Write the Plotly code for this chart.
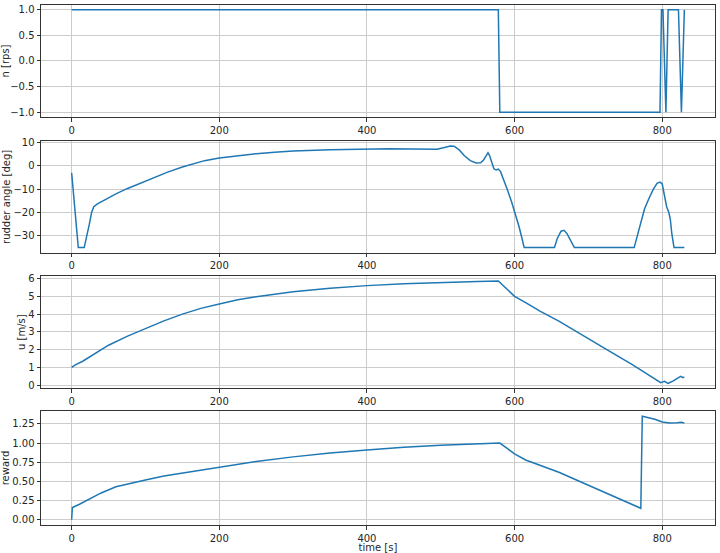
import plotly.graph_objects as go
from plotly.subplots import make_subplots

# ---- data ----
n_time = [0, 578, 580, 797, 799, 801, 805, 808, 822, 826, 830]
n_rps = [1, 1, -1, -1, 1, 1, -1, 1, 1, -1, 1]

rudder_time = [0, 3, 6, 9, 17, 20, 24, 27, 30, 35, 45, 60, 75, 90, 110, 130, 150, 165, 180, 200,
               225, 250, 275, 300, 350, 400, 430, 460, 480, 495, 505, 513, 518, 525, 532, 540,
               548, 554, 558, 562, 564, 566, 569, 572, 575, 578, 581, 585, 590, 596, 601, 606,
               610, 613, 654, 658, 663, 667, 671, 676, 681, 762, 766, 771, 776, 782, 788, 793,
               797, 800, 803, 806, 809, 811, 813, 816, 830]
rudder_deg = [-3, -14, -26, -35, -35, -31, -25, -20, -17.5, -16.3, -14.5, -12, -9.8, -7.8, -5.2,
              -2.7, -0.5, 1.0, 2.2, 3.3, 4.4, 5.2, 5.8, 6.3, 6.9, 7.2, 7.3, 7.15, 7.0, 7.1, 7.8,
              8.5, 8.4, 6.8, 4.3, 2.2, 1.2, 1.3, 2.5, 5.0, 5.6, 4.5, 1.0, -1.3, -1.8, -1.4, -2.5,
              -5.5, -10, -15.5, -20.5, -26, -31, -35, -35, -31, -28, -27.6, -29, -32, -35, -35,
              -30, -24, -18.5, -14, -10, -7.5, -7, -7.8, -13, -17.5, -20, -23, -29, -35, -35]

u_time = [0, 5, 15, 30, 50, 75, 100, 125, 150, 175, 200, 225, 250, 275, 300, 350, 400, 450, 500,
          550, 578, 590, 600, 615, 635, 660, 690, 725, 760, 785, 798, 803, 808, 815, 822, 825,
          828, 830]
u_ms = [1.0, 1.15, 1.35, 1.75, 2.25, 2.75, 3.2, 3.62, 4.0, 4.32, 4.57, 4.8, 4.98, 5.12, 5.25,
        5.45, 5.6, 5.7, 5.78, 5.83, 5.86, 5.4, 5.0, 4.65, 4.15, 3.6, 2.85, 2.0, 1.15, 0.5, 0.15,
        0.22, 0.1, 0.25, 0.45, 0.5, 0.43, 0.47]

reward_time = [0, 1, 10, 25, 40, 60, 80, 100, 125, 150, 175, 200, 250, 300, 350, 400, 450, 500,
               550, 580, 590, 600, 615, 635, 660, 700, 740, 771, 773, 790, 800, 810, 820, 826, 830]
reward = [0.0, 0.16, 0.2, 0.27, 0.35, 0.43, 0.48, 0.52, 0.57, 0.61, 0.65, 0.69, 0.76, 0.82,
          0.87, 0.91, 0.945, 0.97, 0.99, 1.0, 0.93, 0.86, 0.78, 0.71, 0.62, 0.45, 0.28, 0.15,
          1.35, 1.31, 1.275, 1.26, 1.265, 1.27, 1.26]

x_ticks = [0, 200, 400, 600, 800]
y_titles = ["n [rps]", "rudder angle [deg]", "u [m/s]", "reward"]
x_title = "time [s]"

# ---- figure ----
fig = make_subplots(rows=4, cols=1)
series = [(n_time, n_rps), (rudder_time, rudder_deg), (u_time, u_ms), (reward_time, reward)]
for i, (t, v) in enumerate(series, start=1):
    fig.add_trace(go.Scatter(x=t, y=v, mode="lines",
                             line=dict(color="#1f77b4", width=1.5),
                             showlegend=False), row=i, col=1)

domains = [[0.7825, 0.9987], [0.5226, 0.7370], [0.2624, 0.4779], [0.0, 0.2188]]
y_ranges = [[-1.1, 1.1], [-37.2, 10.6], [-0.17, 6.14], [-0.0675, 1.4175]]
y_ticks = [[-1.0, -0.5, 0.0, 0.5, 1.0], [-30, -20, -10, 0, 10], [0, 1, 2, 3, 4, 5, 6],
           [0.0, 0.25, 0.5, 0.75, 1.0, 1.25]]
y_fmt = [".1f", "d", "d", ".2f"]

txt_font = dict(family="DejaVu Sans", size=10, color="#262626")
axis_common = dict(showline=True, linecolor="#333333", linewidth=1, mirror=True,
                   ticks="outside", ticklen=3.5, tickcolor="#333333", automargin=False,
                   showgrid=True, gridcolor="#cccccc", gridwidth=1, zeroline=False,
                   tickfont=txt_font)

for i in range(4):
    fig.update_xaxes(range=[-41.5, 871.5], tickvals=x_ticks, row=i + 1, col=1, **axis_common)
    fig.update_yaxes(range=y_ranges[i], domain=domains[i], tickvals=y_ticks[i],
                     tickformat=y_fmt[i], row=i + 1, col=1,
                     title=dict(text=y_titles[i], standoff=0, font=txt_font),
                     **axis_common)

fig.update_xaxes(title=dict(text=x_title, standoff=0, font=txt_font), row=4, col=1)

fig.update_layout(width=720, height=553, margin=dict(l=41, r=5, t=4, b=28),
                  plot_bgcolor="white", paper_bgcolor="white", font=txt_font)

fig.write_html("out.html", config={"displayModeBar": False},
               post_script="document.body.style.margin='0';document.body.style.overflow='hidden';")
